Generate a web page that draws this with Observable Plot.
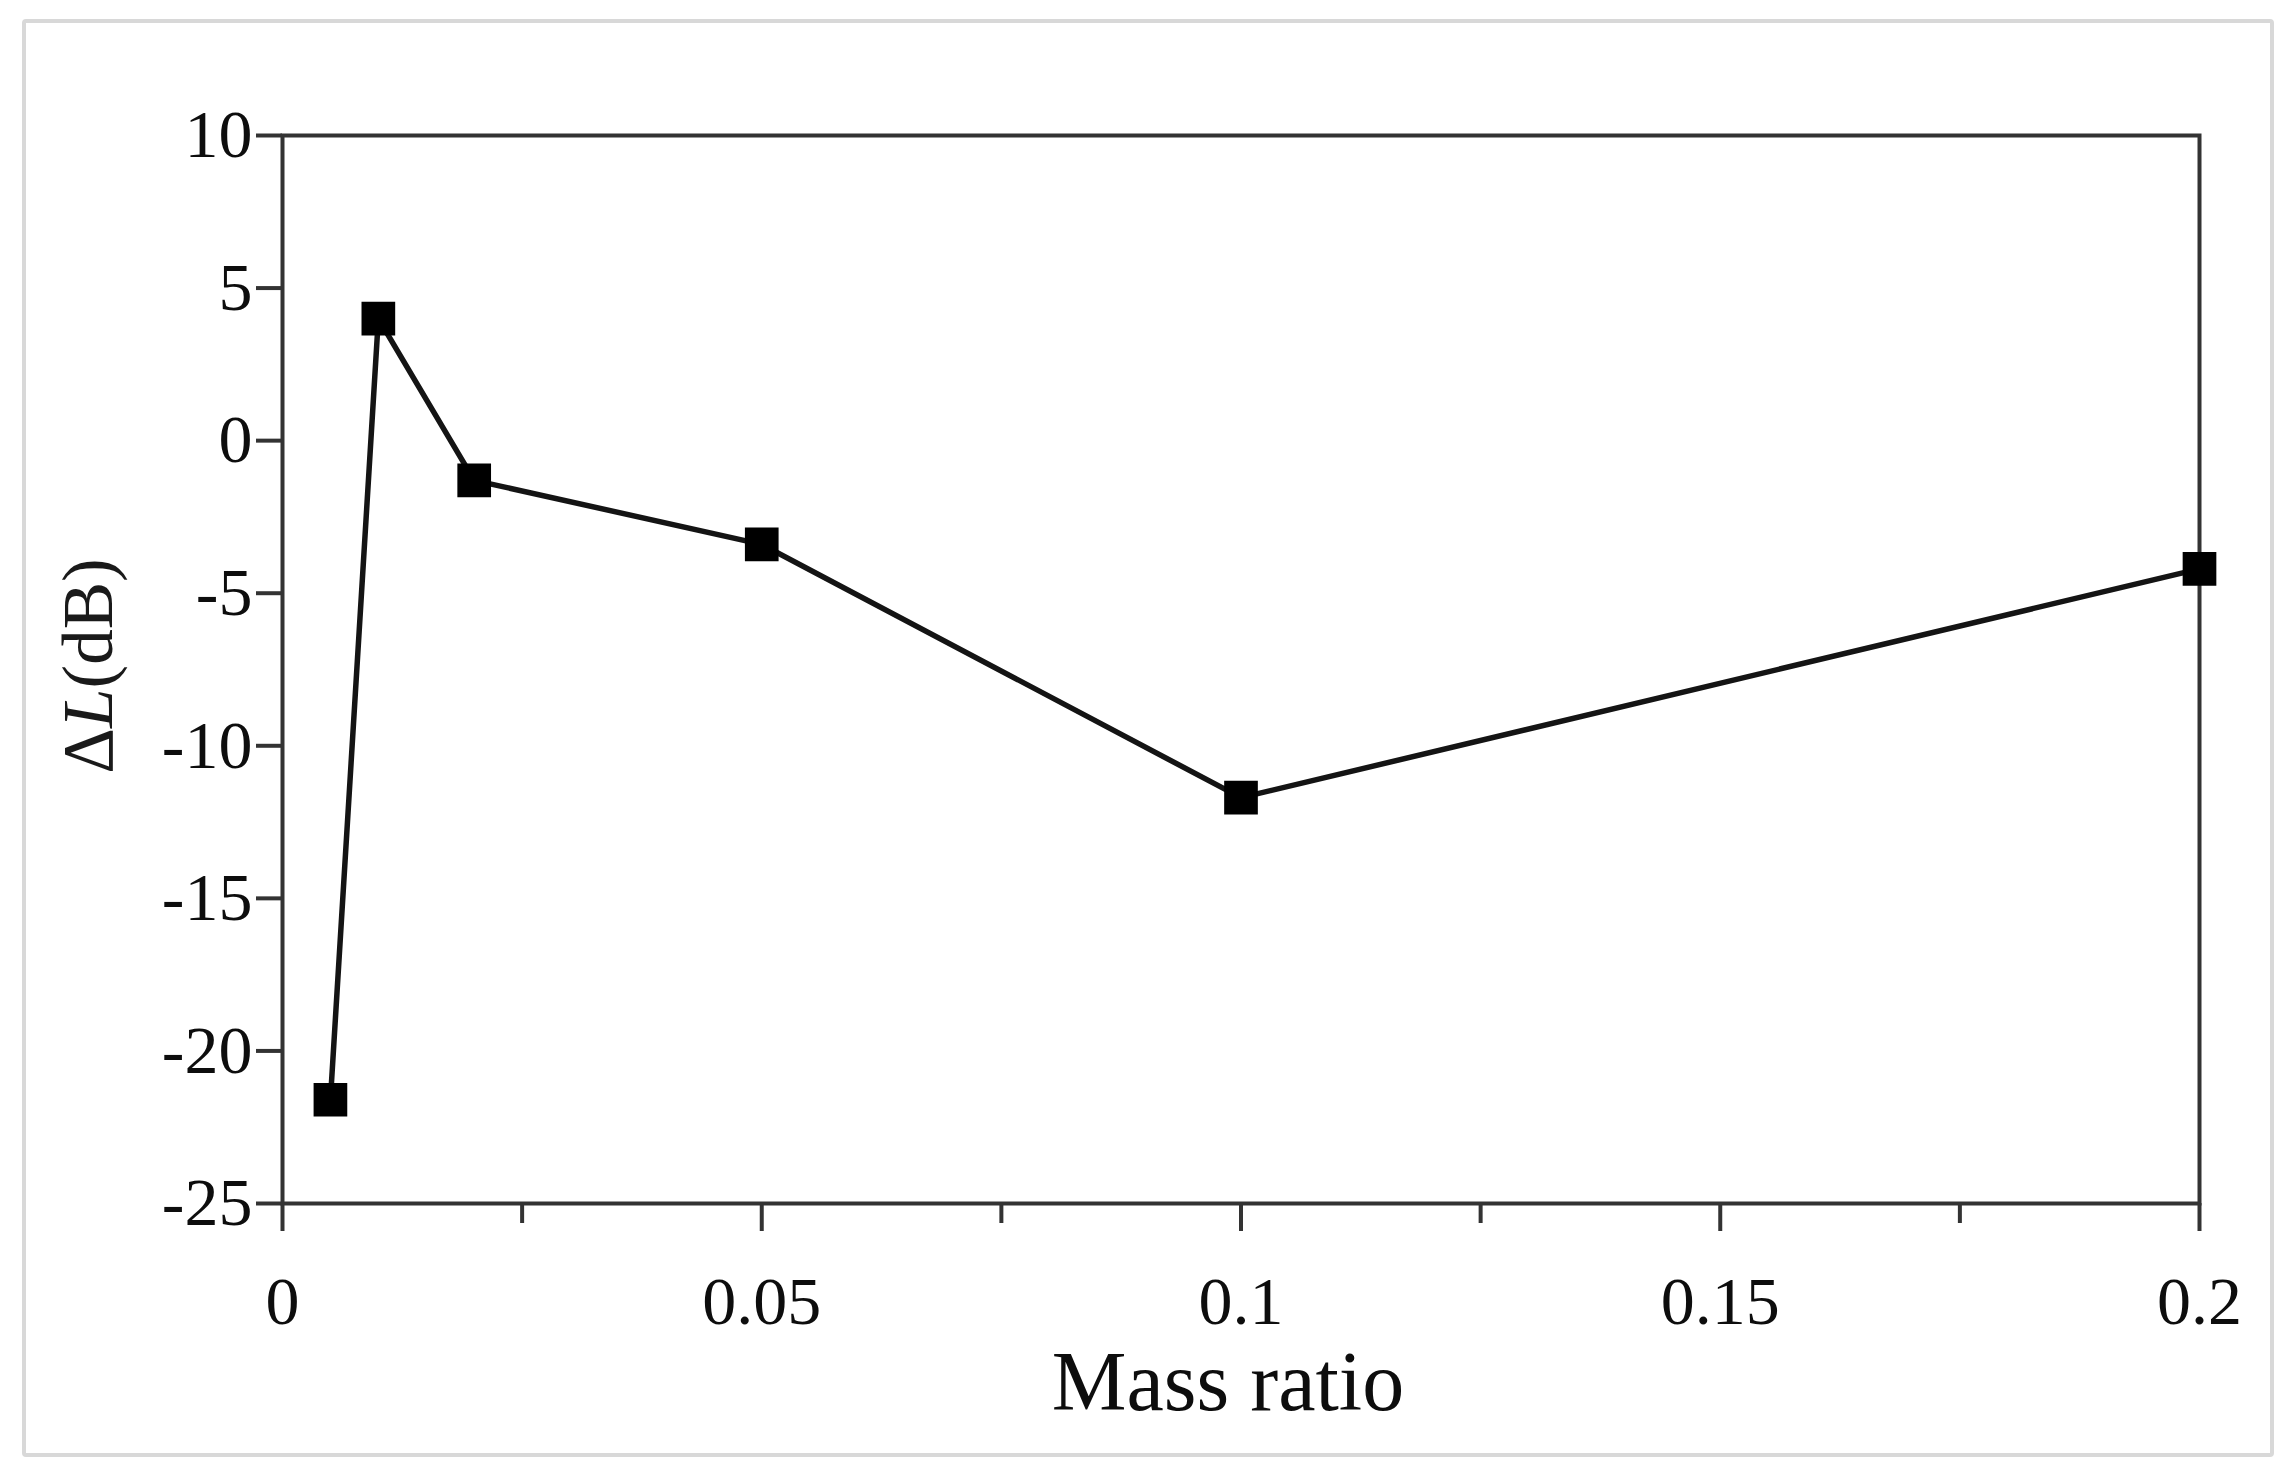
<!DOCTYPE html>
<html><head><meta charset="utf-8">
<script src="https://cdn.jsdelivr.net/npm/d3@7"></script>
<script src="https://cdn.jsdelivr.net/npm/@observablehq/plot@0.6"></script>
<style>html,body{margin:0;padding:0;background:#fff}</style>
</head><body><div id="chart"></div>
<script>
const massRatio = [0.005, 0.01, 0.02, 0.05, 0.1, 0.2];
const deltaL = [-21.6, 4.0, -1.3, -3.4, -11.7, -4.2];
const xMajorTicks = [0, 0.05, 0.1, 0.15, 0.2];
const xMinorTicks = [0.025, 0.075, 0.125, 0.175];
const yTicks = [-25, -20, -15, -10, -5, 0, 5, 10];
const xLabel = "Mass ratio";
const yLabelParts = ["Δ", "L", "(dB)"];

const data = massRatio.map((x, i) => ({x, y: deltaL[i]}));
const font = "'Liberation Serif', 'Times New Roman', serif";
const axisColor = "#333";
const W = 2294, H = 1473;
const mL = 282, mR = 95, mT = 135, mB = 270;

const plot = Plot.plot({
  width: W, height: H,
  marginLeft: mL, marginRight: mR, marginTop: mT, marginBottom: mB,
  style: {fontFamily: font, background: "#fff", color: "#111"},
  x: {domain: [0, 0.2]},
  y: {domain: [-25, 10]},
  marks: [
    Plot.axisY(yTicks, {tickSize: 26, tickPadding: 4, fontSize: 68, stroke: axisColor, strokeWidth: 4, fill: "#0d0d0d", tickFormat: d => String(d), label: null}),
    Plot.axisX(xMajorTicks, {tickSize: 28, tickPadding: 44, fontSize: 68, stroke: axisColor, strokeWidth: 4, fill: "#0d0d0d", tickFormat: d => String(d), label: null}),
    Plot.axisX(xMinorTicks, {tickSize: 20, stroke: axisColor, strokeWidth: 4, tickFormat: () => "", label: null}),
    Plot.frame({stroke: axisColor, strokeWidth: 4}),
    Plot.line(data, {x: "x", y: "y", stroke: "#141414", strokeWidth: 5.5}),
    Plot.dot(data, {x: "x", y: "y", symbol: "square", r: 19, fill: "#000", stroke: "none"})
  ]
});

const svg = d3.select(plot);
svg.insert("rect", ":first-child")
  .attr("x", 24).attr("y", 21).attr("width", 2248).attr("height", 1434)
  .attr("fill", "none").attr("stroke", "#d8d8d8").attr("stroke-width", 4).attr("rx", 2);

svg.append("text")
  .attr("x", 1228).attr("y", 1410)
  .attr("text-anchor", "middle")
  .attr("font-family", font).attr("font-size", 84).attr("fill", "#0d0d0d")
  .text(xLabel);

const yl = svg.append("text")
  .attr("transform", "translate(112,666) rotate(-90)")
  .attr("text-anchor", "middle")
  .attr("font-family", font).attr("font-size", 71).attr("fill", "#1a1a1a");
yl.append("tspan").text(yLabelParts[0]);
yl.append("tspan").attr("font-style", "italic").text(yLabelParts[1]);
yl.append("tspan").text(yLabelParts[2]);

document.getElementById("chart").appendChild(plot);
</script>
</body></html>
